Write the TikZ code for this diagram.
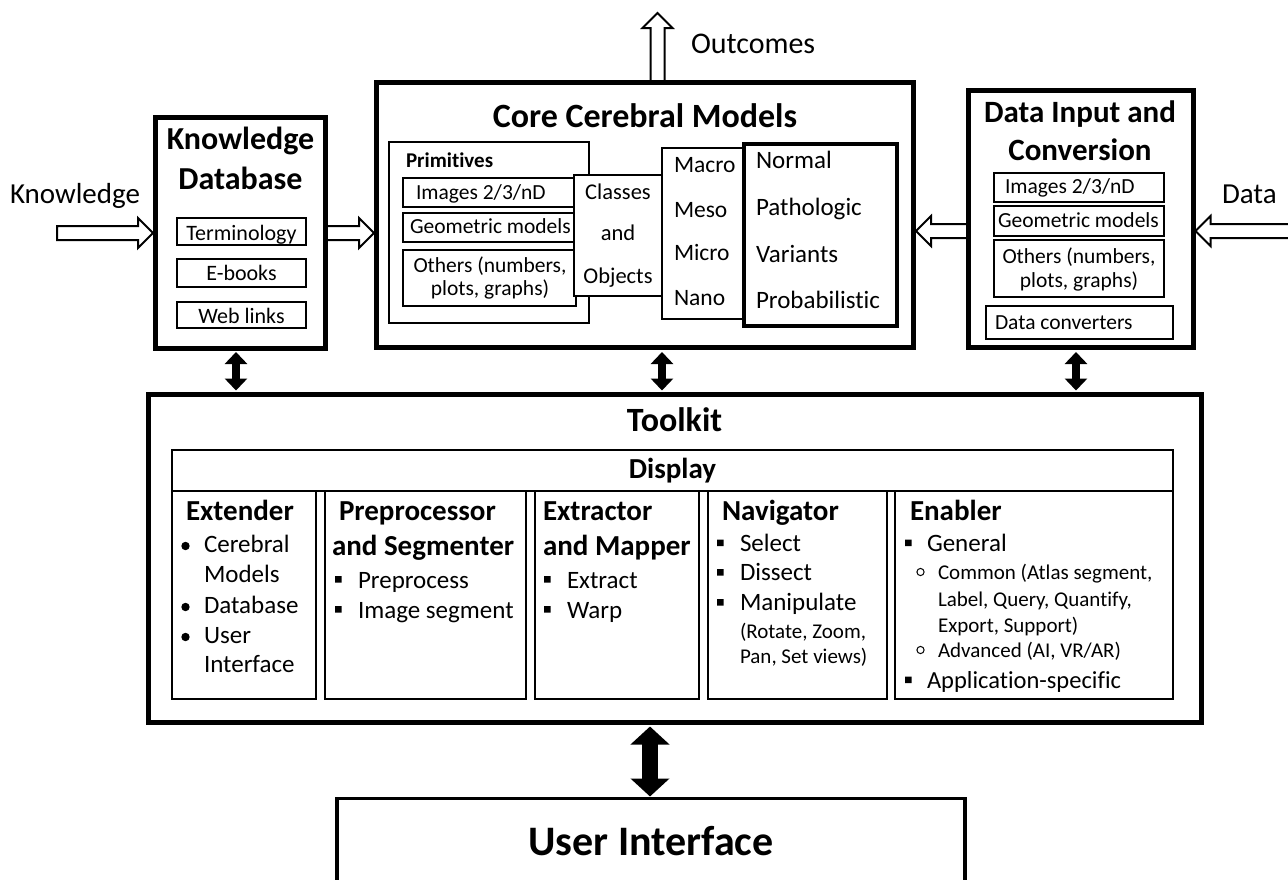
\documentclass[tikz,border=0pt]{standalone}
\usepackage{fontspec}
\setmainfont{Carlito}[Ligatures={NoCommon}]
\usetikzlibrary{arrows.meta,calc,fit,backgrounds}

\newcommand{\fs}[1]{\fontsize{#1pt}{#1pt}\selectfont}

% point of a block arrow in its own frame (along, across)
\newcommand{\bpt}[2]{({\x1+(#1)*(\n2)-(#2)*(\n3)},{\y1+(#1)*(\n3)+(#2)*(\n2)})}
% hollow block arrow from #1 to #2
\newcommand{\blockarrow}[2]{%
  \draw[hollow] let \p1=(#1), \p2=(#2),
      \n1={veclen(\x2-\x1,\y2-\y1)},
      \n2={(\x2-\x1)/\n1}, \n3={(\y2-\y1)/\n1} in
    \bpt{0}{7} -- \bpt{\n1-15}{7} -- \bpt{\n1-15}{15} -- \bpt{\n1}{0}
    -- \bpt{\n1-15}{-15} -- \bpt{\n1-15}{-7} -- \bpt{0}{-7} -- cycle;}

\begin{document}
\begin{tikzpicture}[x=1pt,y=-1pt,
  frame/.style={draw, line width=5pt, fill=white, inner sep=0pt, outer sep=0pt},
  panel/.style={draw, line width=2pt, fill=white, inner sep=0pt, outer sep=0pt},
  cell/.style={draw, line width=1.6pt, fill=white, inner sep=0pt, outer sep=0pt},
  txt/.style={inner sep=0pt, outer sep=0pt, anchor=base west},
  ctr/.style={inner sep=0pt, outer sep=0pt, anchor=base},
  hollow/.style={draw, line width=2pt, fill=white, line join=miter},
  biarrow/.style={line width=8pt, {Triangle[width=22pt,length=12pt]}-{Triangle[width=22pt,length=12pt]}},
  bigbiarrow/.style={line width=16pt, {Triangle[width=38pt,length=18pt]}-{Triangle[width=38pt,length=18pt]}},
  label/.style={txt, font=\fs{29}},
  head/.style={ctr, font=\bfseries\fs{32}},
  colhead/.style={txt, font=\bfseries\fs{29}},
  small/.style={txt, font=\fs{21.5}},
  csmall/.style={ctr, font=\fs{21.5}},
  item/.style={txt, font=\fs{25}},
  subitem/.style={txt, font=\fs{21}},
  sq/.style={fill=black},
]
\begin{pgfonlayer}{background}
  \fill[white] (0,0) rectangle (1288,879);
\end{pgfonlayer}
\useasboundingbox (0,0) rectangle (1288,879);

% ---------- main blocks ----------
\node[frame, fit={(155.5,117.5) (325.5,348.5)}] (kd) {};
\node[frame, fit={(376.5,82.5) (913.5,347.5)}] (core) {};
\node[frame, fit={(968,90.5) (1193,347.5)}] (dic) {};
\node[frame, fit={(148,394.5) (1201,722)}] (tk) {};
\node[frame, line width=3.5pt, fit={(337,798.5) (965,920)}] (ui) {};

% ---------- hollow flow arrows ----------
\coordinate (kin) at (57,233);
\coordinate (din) at (1290,231);
\coordinate (ox) at (657.5,13);
\coordinate (kc) at (core.west |- kd.east);
\coordinate (dc) at (core.east |- din);
\coordinate (dd) at (dic.west |- din);
\coordinate (de) at (dic.east |- din);
\coordinate (oc) at (core.north -| ox);
\begin{pgfonlayer}{background}
  \blockarrow{kin}{[xshift=-2.5pt]kd.west}
  \blockarrow{kd.east}{[xshift=-2.5pt]kc}
  \blockarrow{din}{[xshift=2.5pt]de}
  \blockarrow{dd}{[xshift=2.5pt]dc}
  \blockarrow{oc}{ox}
\end{pgfonlayer}

\node[label] (lknow) at (10,203) {Knowledge};
\node[label] (ldata) at (1222,203) {Data};
\node[label, font=\fs{30}] (lout) at (691,53) {Outcomes};

% ---------- two-way links ----------
\coordinate (kx) at (236,0);
\coordinate (cx) at (662,0);
\coordinate (dx) at (1076,0);
\coordinate (ux) at (650,0);
\draw[biarrow, shorten <=3.5pt, shorten >=4pt] (kd.south -| kx) -- (tk.north -| kx);
\draw[biarrow, shorten <=4.5pt, shorten >=4pt] (core.south -| cx) -- (tk.north -| cx);
\draw[biarrow, shorten <=4.5pt, shorten >=4pt] (dic.south -| dx) -- (tk.north -| dx);
\draw[bigbiarrow, shorten <=4.5pt, shorten >=2pt] (tk.south -| ux) -- (ui.north -| ux);

% ---------- Knowledge Database ----------
\node[head] (kdt1) at (240.5,149) {Knowledge};
\node[head] (kdt2) at (240.5,189) {Database};
\node[panel, fit={(177,218) (306,245)}] (kd1) {};
\node[panel, fit={(177,259) (306,287)}] (kd2) {};
\node[panel, fit={(177,302) (306,328)}] (kd3) {};
\node[ctr, font=\fs{22}] (kdl1) at (241.5,240) {Terminology};
\node[ctr, font=\fs{22}] (kdl2) at (241.5,280) {E-books};
\node[ctr, font=\fs{22}] (kdl3) at (241.5,323) {Web links};

% ---------- Core Cerebral Models ----------
\node[head, font=\bfseries\fs{34}] (coret) at (645,127) {Core Cerebral Models};
\node[panel, fit={(389,142) (589,323)}] (prim) {};
\node[txt, font=\bfseries\fs{21}] (primt) at (406,167) {Primitives};
\node[panel, fit={(403,178) (576,207)}] (pimg) {};
\node[panel, fit={(403,213) (576,242)}] (pgeo) {};
\node[panel, fit={(403,250) (576,306)}] (poth) {};
\node[small] (pimgt) at (416,199) {Images 2/3/nD};
\node[small] (pgeot) at (410,233) {Geometric models};
\node[csmall] (potht1) at (490,272) {Others (numbers,};
\node[csmall] (potht2) at (490,295) {plots, graphs)};
\node[cell, fit={(574,175) (662,296)}] (cls) {};
\node[ctr, font=\fs{22.5}] (clst1) at (618,199) {Classes};
\node[ctr, font=\fs{22.5}] (clst2) at (618,240) {and};
\node[ctr, font=\fs{22.5}] (clst3) at (618,283) {Objects};
\node[panel, fit={(662,148) (744,319)}] (scl) {};
\node[txt, font=\fs{23.5}] (sc1) at (674,172) {Macro};
\node[txt, font=\fs{23.5}] (sc2) at (674,217) {Meso};
\node[txt, font=\fs{23.5}] (sc3) at (674,260) {Micro};
\node[txt, font=\fs{23.5}] (sc4) at (674,305) {Nano};
\node[panel, line width=3.5pt, fit={(744,144) (897,326)}] (st) {};
\node[item] (st1) at (756,168) {Normal};
\node[item] (st2) at (756,215) {Pathologic};
\node[item] (st3) at (756,262) {Variants};
\node[item] (st4) at (756,308) {Probabilistic};

% ---------- Data Input and Conversion ----------
\node[head, font=\bfseries\fs{31}] (dict1) at (1080,122) {Data Input and};
\node[head, font=\bfseries\fs{31}] (dict2) at (1080,160) {Conversion};
\node[panel, fit={(994,173) (1164,202)}] (dimg) {};
\node[panel, fit={(994,206) (1164,236)}] (dgeo) {};
\node[panel, fit={(994,240) (1164,297)}] (doth) {};
\node[panel, fit={(986,306) (1173,339)}] (dconv) {};
\node[small] (dimgt) at (1005,193) {Images 2/3/nD};
\node[small] (dgeot) at (998,227) {Geometric models};
\node[csmall] (dotht1) at (1079,263) {Others (numbers,};
\node[csmall] (dotht2) at (1079,287) {plots, graphs)};
\node[small] (dconvt) at (995,329) {Data converters};

% ---------- Toolkit ----------
\node[head, font=\bfseries\fs{34}] (tkt) at (674.5,431) {Toolkit};
\node[cell, fit={(172,450) (1173,491)}] (disp) {};
\node[ctr, font=\bfseries\fs{29}] (dispt) at (672.5,478) {Display};
\node[cell, fit={(172,491) (316,699)}] (c1) {};
\node[cell, fit={(325,491) (526,699)}] (c2) {};
\node[cell, fit={(535,491) (699,699)}] (c3) {};
\node[cell, fit={(708,491) (887,699)}] (c4) {};
\node[cell, fit={(895,491) (1173,699)}] (c5) {};

% Extender
\node[colhead] (c1t) at (186,520) {Extender};
\node[item] (c1a) at (204,552) {Cerebral};
\node[item] (c1b) at (204,582) {Models};
\node[item] (c1c) at (204,613) {Database};
\node[item] (c1d) at (204,643) {User};
\node[item] (c1e) at (204,672) {Interface};
\fill (185.5,546) circle (4.2pt) (185.5,607) circle (4.2pt) (185.5,637) circle (4.2pt);

% Preprocessor and Segmenter
\node[colhead] (c2t) at (339,520) {Preprocessor};
\node[colhead] (c2u) at (332,555) {and Segmenter};
\node[item] (c2a) at (358,588) {Preprocess};
\node[item] (c2b) at (358,618) {Image segment};
\fill[sq] (335,576) rectangle ++(6.5,6.5) (335,606) rectangle ++(6.5,6.5);

% Extractor and Mapper
\node[colhead] (c3t) at (543,520) {Extractor};
\node[colhead] (c3u) at (543,555) {and Mapper};
\node[item] (c3a) at (567,588) {Extract};
\node[item] (c3b) at (567,618) {Warp};
\fill[sq] (544,576) rectangle ++(6.5,6.5) (544,606) rectangle ++(6.5,6.5);

% Navigator
\node[colhead] (c4t) at (722,520) {Navigator};
\node[item] (c4a) at (740,551) {Select};
\node[item] (c4b) at (740,580) {Dissect};
\node[item] (c4c) at (740,610) {Manipulate};
\node[subitem] (c4d) at (740,638) {(Rotate, Zoom,};
\node[subitem] (c4e) at (740,663) {Pan, Set views)};
\fill[sq] (717,539.5) rectangle ++(6.5,6.5) (717,569) rectangle ++(6.5,6.5) (717,599) rectangle ++(6.5,6.5);

% Enabler
\node[colhead] (c5t) at (910,520) {Enabler};
\node[item] (c5a) at (927,551) {General};
\node[subitem] (c5b) at (938,579) {Common (Atlas segment,};
\node[subitem] (c5c) at (938,606) {Label, Query, Quantify,};
\node[subitem] (c5d) at (938,632) {Export, Support)};
\node[subitem] (c5e) at (938,657) {Advanced (AI, VR/AR)};
\node[item, font=\fs{24.5}] (c5f) at (927,688) {Application-specific};
\fill[sq] (905,539.5) rectangle ++(6.5,6.5) (905,676.5) rectangle ++(6.5,6.5);
\draw[line width=1pt] (920.5,572) circle (3.6pt) (920.5,650) circle (3.6pt);

% ---------- User Interface ----------
\node[head, font=\bfseries\fs{42}] (uit) at (651,855) {User Interface};
\end{tikzpicture}
\end{document}
